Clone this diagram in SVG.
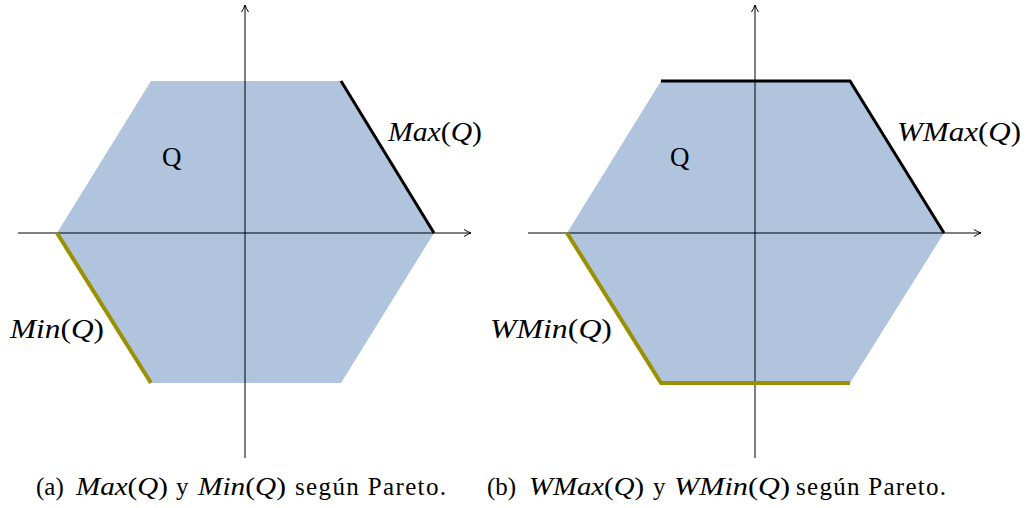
<svg xmlns="http://www.w3.org/2000/svg" width="1026" height="508" viewBox="0 0 1026 508">
<defs>
<marker id="arr" viewBox="0 0 10 10" refX="9" refY="5" markerWidth="10" markerHeight="10" markerUnits="userSpaceOnUse" orient="auto">
<path d="M2,1.5 Q6,4 9,5 Q6,6 2,8.5" fill="none" stroke="#000" stroke-width="1"/>
</marker>
<style>
.hex{fill:#b0c4de;stroke:none}
.ax{stroke:#000;stroke-width:1;fill:none;marker-end:url(#arr)}
.mx{stroke:#000;stroke-width:3;fill:none;stroke-linejoin:miter}
.mn{stroke:#9a9000;stroke-width:4;fill:none;stroke-linejoin:miter}
.lb{font-family:"Liberation Serif","Times New Roman",serif;font-size:27px;fill:#000}
.it{font-style:italic}
.cap{font-family:"Liberation Serif","Times New Roman",serif;font-size:25px;fill:#000}
</style>
</defs>
<g id="panel-a">
<g id="region-a"><polygon class="hex" points="57,233 151,81 341,81 434,233 341,383 151,383"/></g>
<g id="connectors-a">
<line class="ax" x1="18" y1="233" x2="471" y2="233"/>
<line class="ax" x1="245" y1="458" x2="245" y2="5"/>
<line class="mx" x1="341" y1="81" x2="434" y2="233"/>
<line class="mn" x1="57" y1="233" x2="151" y2="383"/>
</g>
<g id="labels-a">
<text class="lb" x="162" y="166">Q</text>
<text class="lb" x="388" y="141" textLength="94" lengthAdjust="spacingAndGlyphs"><tspan class="it">Max</tspan>(<tspan class="it">Q</tspan>)</text>
<text class="lb" x="10" y="338" textLength="94" lengthAdjust="spacingAndGlyphs"><tspan class="it">Min</tspan>(<tspan class="it">Q</tspan>)</text>
</g>
</g>
<g id="panel-b">
<g id="region-b"><polygon class="hex" points="567,233 661,81 850,81 944,233 850,383 661,383"/></g>
<g id="connectors-b">
<line class="ax" x1="528" y1="233" x2="981" y2="233"/>
<line class="ax" x1="755" y1="458" x2="755" y2="5"/>
<polyline class="mx" points="661,81 850,81 944,233"/>
<polyline class="mn" points="567,233 661,383 850,383"/>
</g>
<g id="labels-b">
<text class="lb" x="670" y="166">Q</text>
<text class="lb" x="897" y="141" textLength="124" lengthAdjust="spacingAndGlyphs"><tspan class="it">WMax</tspan>(<tspan class="it">Q</tspan>)</text>
<text class="lb" x="490" y="338" textLength="122" lengthAdjust="spacingAndGlyphs"><tspan class="it">WMin</tspan>(<tspan class="it">Q</tspan>)</text>
</g>
</g>
<g id="captions">
<g id="caption-a">
<text class="cap" x="36" y="495">(a)</text>
<text class="cap" x="76" y="495" textLength="92" lengthAdjust="spacingAndGlyphs"><tspan class="it">Max</tspan>(<tspan class="it">Q</tspan>)</text>
<text class="cap" x="176" y="495">y</text>
<text class="cap" x="198" y="495" textLength="88" lengthAdjust="spacingAndGlyphs"><tspan class="it">Min</tspan>(<tspan class="it">Q</tspan>)</text>
<text class="cap" x="295" y="495" textLength="151" lengthAdjust="spacing">según Pareto.</text>
</g>
<g id="caption-b">
<text class="cap" x="487" y="495">(b)</text>
<text class="cap" x="529" y="495" textLength="115" lengthAdjust="spacingAndGlyphs"><tspan class="it">WMax</tspan>(<tspan class="it">Q</tspan>)</text>
<text class="cap" x="653" y="495">y</text>
<text class="cap" x="674" y="495" textLength="116" lengthAdjust="spacingAndGlyphs"><tspan class="it">WMin</tspan>(<tspan class="it">Q</tspan>)</text>
<text class="cap" x="796" y="495" textLength="150" lengthAdjust="spacing">según Pareto.</text>
</g>
</g>
</svg>
